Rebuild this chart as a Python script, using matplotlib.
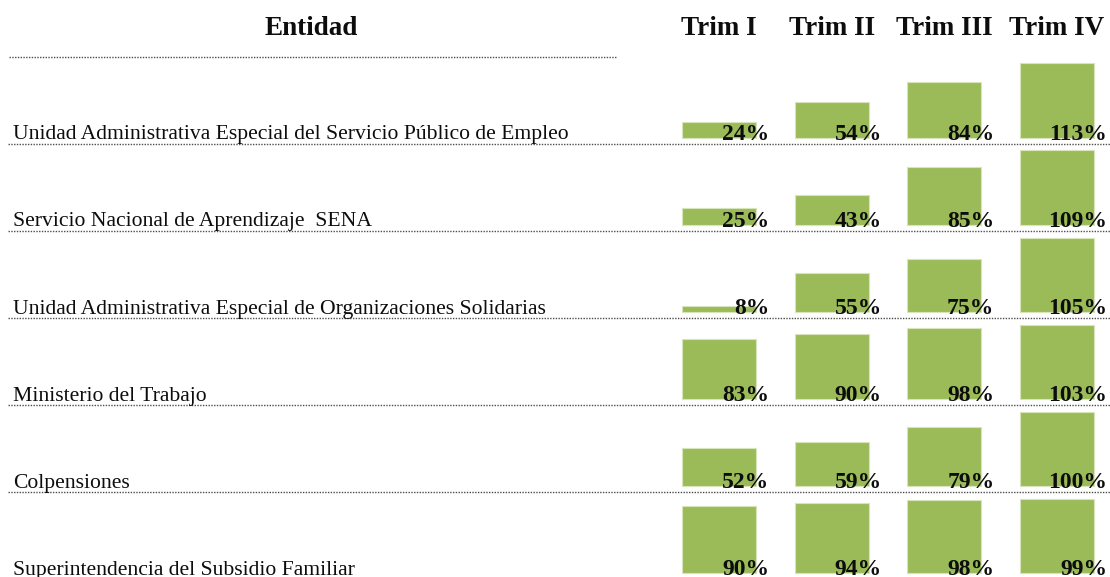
import matplotlib
matplotlib.use("Agg")
import matplotlib.pyplot as plt
from matplotlib.lines import Line2D
from matplotlib import transforms

entities = [
    "Unidad Administrativa Especial del Servicio Público de Empleo",
    "Servicio Nacional de Aprendizaje  SENA",
    "Unidad Administrativa Especial de Organizaciones Solidarias",
    "Ministerio del Trabajo",
    "Colpensiones",
    "Superintendencia del Subsidio Familiar",
]
quarters = ["Trim I", "Trim II", "Trim III", "Trim IV"]
trim1 = [24, 25, 8, 83, 52, 90]
trim2 = [54, 43, 55, 90, 59, 94]
trim3 = [84, 85, 75, 98, 79, 98]
trim4 = [113, 109, 105, 103, 100, 99]
header_entity = "Entidad"

W, H = 1110, 577
DPI = 100
FONT = "Liberation Serif"
BAR_COLOR = "#9BBB59"
EDGE_COLOR = "#D8E4BC"
TEXT_COLOR = "#0d0d0d"

fig = plt.figure(figsize=(W / DPI, H / DPI), dpi=DPI)
fig.patch.set_facecolor("white")

def fx(px):
    return px / W

def fy(py):
    return 1 - py / H

# geometry in pixels
first_line = 143.7
row_step = 87.15
bar_drop = 6.0
bar_max_h = 74.5
ax_left_px, ax_right_px = 650, 1110
center0, col_step = 719.0, 112.67
bar_w = 74.3 / col_step
xlo = (ax_left_px - center0) / col_step
xhi = (ax_right_px - center0) / col_step

dot_style = dict(color="#4d4d4d", lw=1.0, linestyle=(0, (1.0, 1.0)))

# header
fig.text(fx(311.5), fy(35), header_entity, ha="center", va="baseline",
         fontsize=19.5, fontweight="bold", family=FONT, color=TEXT_COLOR)
fig.add_artist(Line2D([fx(9), fx(617)], [fy(56.7), fy(56.7)],
                      transform=fig.transFigure, **dot_style))

rows = list(zip(trim1, trim2, trim3, trim4))
axes = []
for i, (name, vals) in enumerate(zip(entities, rows)):
    line_y = first_line + i * row_step
    base_y = line_y - bar_drop
    ax = fig.add_axes([fx(ax_left_px), fy(base_y), fx(ax_right_px - ax_left_px),
                       bar_max_h / H])
    ax.set_xlim(xlo, xhi)
    ax.set_ylim(0, max(vals))
    ax.axis("off")
    xs = list(range(len(vals)))
    ax.bar(xs, vals, width=bar_w, color=BAR_COLOR, edgecolor=EDGE_COLOR,
           linewidth=0.8, clip_on=False)
    for x, v in zip(xs, vals):
        ax.annotate(f"{v}%", xy=(x + bar_w / 2, 0), xytext=(13 * 0.72, -1.8 * 0.72),
                    textcoords="offset points", ha="right", va="baseline",
                    fontsize=17, fontweight="bold", family=FONT, color=TEXT_COLOR,
                    annotation_clip=False)
    fig.text(fx(13), fy(line_y - 4.4), name, ha="left", va="baseline",
             fontsize=15.6, family=FONT, color=TEXT_COLOR)
    fig.add_artist(Line2D([fx(8), fx(1110)], [fy(line_y), fy(line_y)],
                          transform=fig.transFigure, **dot_style))
    axes.append(ax)

# quarter headers centered over bar columns
trans = transforms.blended_transform_factory(axes[0].transData, fig.transFigure)
for j, q in enumerate(quarters):
    axes[0].text(j, fy(35), q, transform=trans, ha="center", va="baseline",
                 fontsize=19.5, fontweight="bold", family=FONT, color=TEXT_COLOR,
                 clip_on=False)

fig.savefig("out.png", dpi=DPI, facecolor="white")
